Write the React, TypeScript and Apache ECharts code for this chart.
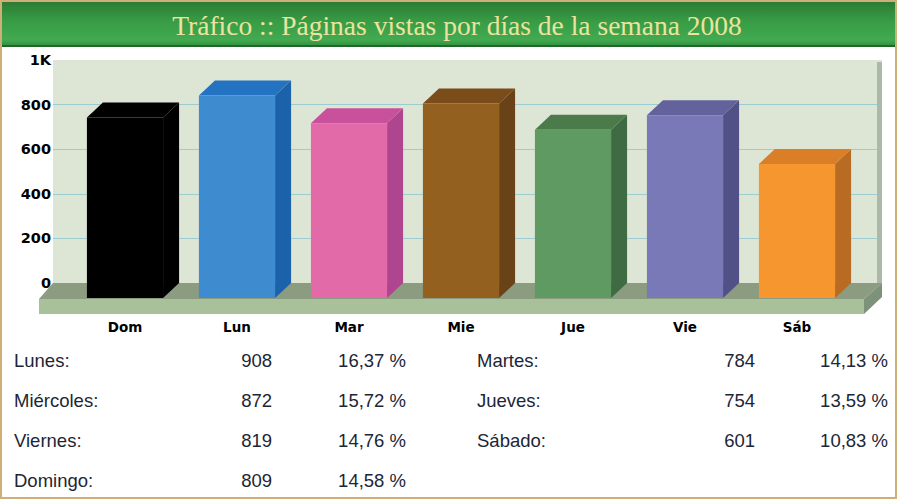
import React, { useEffect, useRef } from "react";
import * as echarts from "echarts";

const TITLE = "Tráfico :: Páginas vistas por días de la semana 2008";
const CATEGORIES = ["Dom", "Lun", "Mar", "Mie", "Jue", "Vie", "Sáb"];
const VISITS = [809, 908, 784, 872, 754, 819, 601];

const TABLE_DAYS = ["Lunes:", "Miércoles:", "Viernes:", "Domingo:", "Martes:", "Jueves:", "Sábado:"];
const TABLE_VISITS = [908, 872, 819, 809, 784, 754, 601];
const TABLE_PCT = ["16,37 %", "15,72 %", "14,76 %", "14,58 %", "14,13 %", "13,59 %", "10,83 %"];

const FRONT = ["#000000", "#3e8bd0", "#e26aa8", "#94601f", "#5f9a62", "#7a79b8", "#f6962f"];
const TOPC = ["#000000", "#2472c2", "#c9509a", "#7a4c19", "#4b7b4b", "#63629c", "#da7f27"];
const SIDE = ["#000000", "#1c62aa", "#b0458f", "#694217", "#3f6b42", "#515187", "#b86b22"];

const DX = 16;
const DY = -15;

export default function App() {
  const ref = useRef<HTMLDivElement>(null);
  useEffect(() => {
    if (!ref.current) return;
    const chart = echarts.init(ref.current, null, { renderer: "svg" });

    const tableEls: any[] = [];
    const textStyle = { fontSize: 18.5, fontFamily: "Liberation Sans", fill: "#1c2636" };
    TABLE_DAYS.forEach((d, i) => {
      const left = i < 4;
      const row = left ? i : i - 4;
      const y = 360 + row * 40;
      tableEls.push({
        type: "text", x: left ? 14 : 477, y, z: 10,
        style: { ...textStyle, text: d, align: "left", verticalAlign: "middle" },
      });
      tableEls.push({
        type: "text", x: left ? 272 : 755, y, z: 10,
        style: { ...textStyle, text: String(TABLE_VISITS[i]), align: "right", verticalAlign: "middle" },
      });
      tableEls.push({
        type: "text", x: left ? 406 : 888, y, z: 10,
        style: { ...textStyle, text: TABLE_PCT[i], align: "right", verticalAlign: "middle" },
      });
    });

    const option: any = {
      animation: false,
      backgroundColor: "#ffffff",
      grid: [
        { left: 53, right: 15, top: 60, bottom: 216, show: true, backgroundColor: "#dde5d5", borderWidth: 0 },
        { left: 69, right: 44, top: 75, bottom: 201 },
      ],
      xAxis: [
        { type: "category", gridIndex: 0, data: CATEGORIES, show: false },
        {
          type: "category", gridIndex: 1, data: CATEGORIES,
          axisLine: { show: false }, axisTick: { show: false },
          axisLabel: { margin: 22, color: "#000", fontWeight: "bold", fontSize: 13.5, fontFamily: "DejaVu Sans" },
        },
      ],
      yAxis: [
        {
          type: "value", gridIndex: 0, min: 0, max: 1000, interval: 200,
          axisLine: { show: false }, axisTick: { show: false },
          axisLabel: {
            margin: 2, color: "#000", fontWeight: "bold", fontSize: 14.5, fontFamily: "DejaVu Sans",
            formatter: (v: number) => (v === 1000 ? "1K" : String(v)),
          },
          splitLine: {
            lineStyle: { color: ["#9ccbd0", "#9ccbd0", "#9ccbd0", "#9ccbd0", "#9ccbd0", "#dde5d5"], width: 1 },
          },
        },
        { type: "value", gridIndex: 1, min: 0, max: 1000, show: false },
      ],
      graphic: {
        elements: [
          {
            type: "rect", z: 20, shape: { x: 1, y: 1, width: 895, height: 497 },
            style: { fill: "none", stroke: "#d0ae78", lineWidth: 2 },
          },
          {
            type: "rect", z: 15, shape: { x: 0, y: 0, width: 897, height: 47 },
            style: {
              fill: new echarts.graphic.LinearGradient(0, 0, 0, 1, [
                { offset: 0, color: "#2a7832" },
                { offset: 0.45, color: "#389c45" },
                { offset: 0.85, color: "#42aa50" },
                { offset: 1, color: "#2f8a3a" },
              ]),
            },
          },
          {
            type: "rect", z: 16, shape: { x: 0, y: 45, width: 897, height: 2 },
            style: { fill: "#22652b" },
          },
          {
            type: "text", z: 17, x: 457, y: 25,
            style: {
              text: TITLE, fill: "#ece3a0", fontSize: 27.5, fontFamily: "Liberation Serif",
              align: "center", verticalAlign: "middle",
            },
          },
          {
            type: "rect", z: 1, shape: { x: 877, y: 62, width: 5, height: 222 },
            style: { fill: "#aab9aa" },
          },
          {
            type: "polygon", z: 1,
            shape: { points: [[53, 283], [882, 283], [864, 299], [39, 299]] },
            style: { fill: "#8c9c80" },
          },
          {
            type: "polygon", z: 1,
            shape: { points: [[39, 299], [864, 299], [864, 314], [39, 314]] },
            style: { fill: "#a9c19b" },
          },
          {
            type: "polygon", z: 1,
            shape: { points: [[864, 299], [882, 283], [882, 297], [864, 314]] },
            style: { fill: "#7c9279" },
          },
          ...tableEls,
        ],
      },
      series: [
        {
          type: "custom",
          xAxisIndex: 1,
          yAxisIndex: 1,
          z: 5,
          data: CATEGORIES.map((c, i) => [i, VISITS[i]]),
          renderItem: (params: any, api: any) => {
            const idx = api.value(0);
            const v = api.value(1);
            const base = api.coord([idx, 0]);
            const top = api.coord([idx, v]);
            const w = api.size([1, 0])[0] * 0.68;
            const L = base[0] - w / 2;
            const R = base[0] + w / 2;
            const T = top[1];
            const B = base[1];
            return {
              type: "group",
              children: [
                {
                  type: "polygon",
                  shape: { points: [[R, T], [R + DX, T + DY], [R + DX, B + DY], [R, B]] },
                  style: { fill: SIDE[idx] },
                },
                {
                  type: "polygon",
                  shape: { points: [[L, T], [R, T], [R + DX, T + DY], [L + DX, T + DY]] },
                  style: { fill: TOPC[idx] },
                },
                {
                  type: "rect",
                  shape: { x: L, y: T, width: w, height: B - T },
                  style: { fill: FRONT[idx] },
                },
              ],
            };
          },
        },
      ],
    };
    chart.setOption(option);
    return () => chart.dispose();
  }, []);
  return (
    <div
      ref={ref}
      style={{ position: "fixed", left: 0, top: 0, width: 897, height: 499 }}
    />
  );
}
